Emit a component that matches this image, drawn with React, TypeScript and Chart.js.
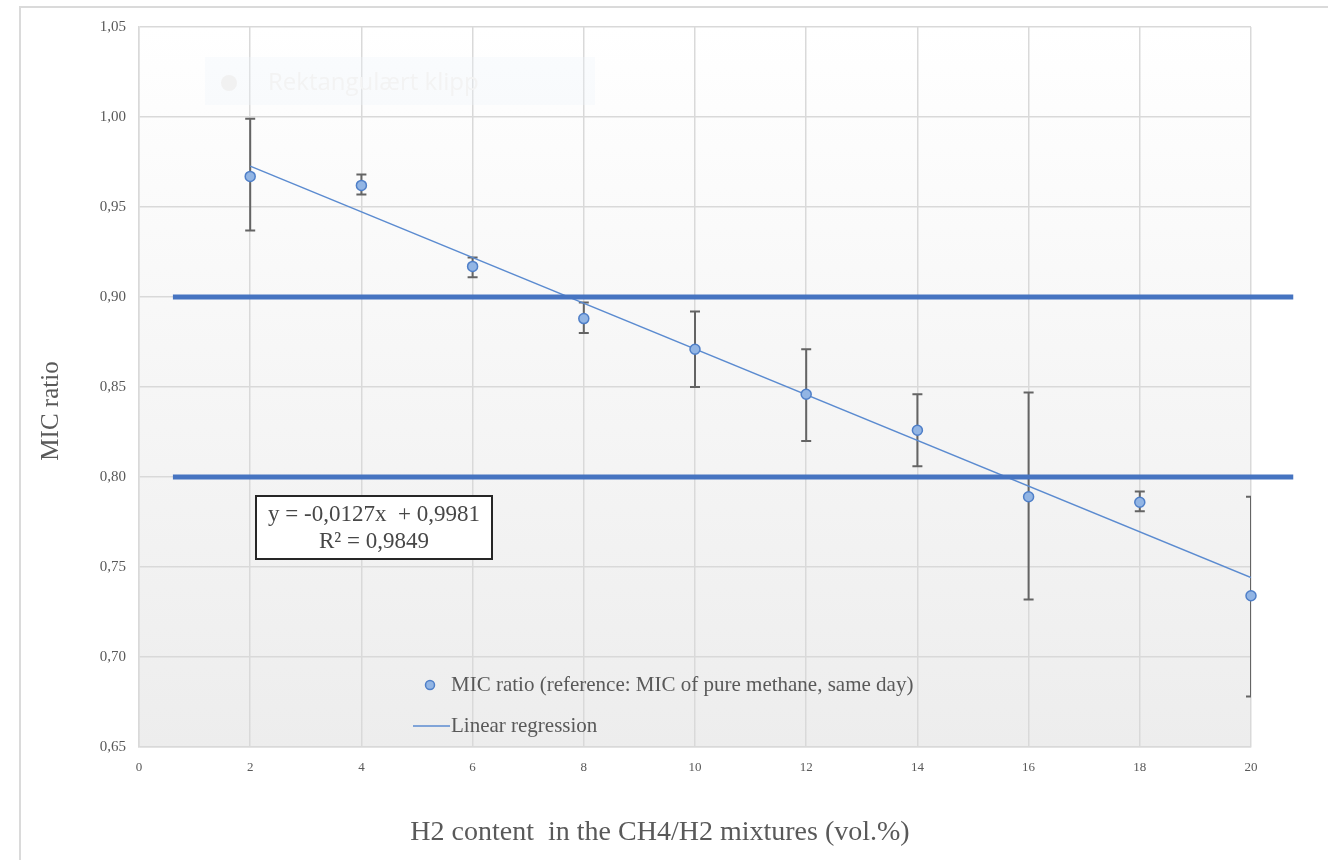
import React, { useEffect, useRef } from "react";
import { Chart, registerables } from "chart.js";

Chart.register(...registerables);

// ---- data ----
const h2Content = [2, 4, 6, 8, 10, 12, 14, 16, 18, 20];
const micRatio = [0.967, 0.962, 0.917, 0.888, 0.871, 0.846, 0.826, 0.789, 0.786, 0.734];
const errorHigh = [0.999, 0.968, 0.922, 0.897, 0.892, 0.871, 0.846, 0.847, 0.792, 0.789];
const errorLow = [0.937, 0.957, 0.911, 0.880, 0.850, 0.820, 0.806, 0.732, 0.781, 0.678];
const regressionX = [2, 20];
const regressionY = [0.9727, 0.7441];
const thresholdX = [0.61, 20.76];
const upperThresholdY = [0.9, 0.9];
const lowerThresholdY = [0.8, 0.8];
const equationLines = ["y = -0,0127x  + 0,9981", "R² = 0,9849"];
const seriesLabel = "MIC ratio (reference: MIC of pure methane, same day)";
const regressionLabel = "Linear regression";
const xTitle = "H2 content  in the CH4/H2 mixtures (vol.%)";
const yTitle = "MIC ratio";
const watermarkText = "Rektangulært klipp";

const SERIF = "'Liberation Serif', 'Times New Roman', serif";
const TEXT = "#595959";
const GRID = "#d9d9d9";
const POINT_FILL = "#92b5e4";
const POINT_BORDER = "#4f7fc8";
const REG_COLOR = "#5b8bd0";
const THRESH_COLOR = "#4674c1";

const pts = (xs: number[], ys: number[]) => xs.map((x, i) => ({ x, y: ys[i] }));

const decorPlugin = {
  id: "decor",
  beforeDraw(chart: any) {
    const { ctx, chartArea: a, width, height } = chart;
    ctx.save();
    ctx.fillStyle = "#ffffff";
    ctx.fillRect(0, 0, width, height);
    // outer frame (top and left)
    ctx.strokeStyle = "#dadada";
    ctx.lineWidth = 2;
    ctx.beginPath();
    ctx.moveTo(20, height);
    ctx.lineTo(20, 7);
    ctx.lineTo(width, 7);
    ctx.stroke();
    // plot area gradient
    const g = ctx.createLinearGradient(0, a.top, 0, a.bottom);
    g.addColorStop(0, "#ffffff");
    g.addColorStop(1, "#ededed");
    ctx.fillStyle = g;
    ctx.fillRect(a.left, a.top, a.right - a.left, a.bottom - a.top);
    ctx.restore();
  },
  beforeDatasetsDraw(chart: any) {
    const { ctx, chartArea: a, scales } = chart;
    const xs = scales.x;
    const ys = scales.y;
    ctx.save();
    // faint watermark box
    const wx = a.left + 66;
    const wy = a.top + 30;
    ctx.fillStyle = "rgba(238,244,252,0.3)";
    ctx.fillRect(wx, wy, 390, 48);
    ctx.fillStyle = "#f1f1f1";
    ctx.beginPath();
    ctx.arc(wx + 24, wy + 26, 8, 0, Math.PI * 2);
    ctx.fill();
    ctx.fillStyle = "#f3f3f3";
    ctx.font = "24px 'Open Sans', sans-serif";
    ctx.textBaseline = "middle";
    ctx.textAlign = "left";
    ctx.fillText(watermarkText, wx + 63, wy + 26);

    // error bars, clipped to plot area
    ctx.beginPath();
    ctx.rect(a.left, a.top, a.right - a.left, a.bottom - a.top);
    ctx.clip();
    ctx.strokeStyle = "#646464";
    ctx.lineWidth = 2;
    h2Content.forEach((x, i) => {
      const px = xs.getPixelForValue(x);
      const pHi = ys.getPixelForValue(errorHigh[i]);
      const pLo = ys.getPixelForValue(errorLow[i]);
      ctx.beginPath();
      ctx.moveTo(px, pHi);
      ctx.lineTo(px, pLo);
      ctx.moveTo(px - 5, pHi);
      ctx.lineTo(px + 5, pHi);
      ctx.moveTo(px - 5, pLo);
      ctx.lineTo(px + 5, pLo);
      ctx.stroke();
    });
    ctx.restore();
  },
  afterDraw(chart: any) {
    const { ctx, chartArea: a, width } = chart;
    const ds0 = chart.data.datasets[0];
    const dsReg = chart.data.datasets[3];
    ctx.save();
    // axis titles
    ctx.fillStyle = TEXT;
    ctx.textAlign = "center";
    ctx.textBaseline = "middle";
    ctx.font = `28px ${SERIF}`;
    ctx.fillText(xTitle, width / 2 - 4, 833);
    ctx.save();
    ctx.translate(51, 411);
    ctx.rotate(-Math.PI / 2);
    ctx.font = `25px ${SERIF}`;
    ctx.fillText(yTitle, 0, 0);
    ctx.restore();

    // equation box
    const bx = a.left + 117;
    const by = a.top + 469;
    const bw = 236;
    const bh = 63;
    ctx.fillStyle = "#ffffff";
    ctx.fillRect(bx, by, bw, bh);
    ctx.strokeStyle = "#262626";
    ctx.lineWidth = 2;
    ctx.strokeRect(bx, by, bw, bh);
    ctx.fillStyle = "#474747";
    ctx.font = `23px ${SERIF}`;
    ctx.textAlign = "center";
    ctx.textBaseline = "middle";
    ctx.fillText(equationLines[0], bx + bw / 2, by + 19);
    ctx.fillText(equationLines[1], bx + bw / 2, by + 46);

    // legend
    ctx.font = `21px ${SERIF}`;
    ctx.textAlign = "left";
    const lx = a.left + 274;
    const ly1 = a.top + 658;
    const ly2 = a.top + 699;
    ctx.beginPath();
    ctx.arc(lx + 17, ly1, 4.5, 0, Math.PI * 2);
    ctx.fillStyle = ds0.backgroundColor;
    ctx.fill();
    ctx.lineWidth = 1.5;
    ctx.strokeStyle = ds0.borderColor;
    ctx.stroke();
    ctx.fillStyle = TEXT;
    ctx.fillText(ds0.label, lx + 38, ly1);
    ctx.beginPath();
    ctx.moveTo(lx, ly2);
    ctx.lineTo(lx + 37, ly2);
    ctx.strokeStyle = dsReg.borderColor;
    ctx.lineWidth = 1.5;
    ctx.stroke();
    ctx.fillText(dsReg.label, lx + 38, ly2);
    ctx.restore();
  },
};

export default function App() {
  const canvasRef = useRef<HTMLCanvasElement | null>(null);

  useEffect(() => {
    if (!canvasRef.current) return;
    const chart = new Chart(canvasRef.current, {
      type: "scatter",
      data: {
        datasets: [
          {
            label: seriesLabel,
            data: pts(h2Content, micRatio),
            backgroundColor: POINT_FILL,
            borderColor: POINT_BORDER,
            borderWidth: 1.5,
            pointRadius: 5,
            clip: false,
          },
          {
            label: "upper",
            data: pts(thresholdX, upperThresholdY),
            showLine: true,
            borderColor: THRESH_COLOR,
            borderWidth: 5,
            pointRadius: 0,
            clip: false,
          },
          {
            label: "lower",
            data: pts(thresholdX, lowerThresholdY),
            showLine: true,
            borderColor: THRESH_COLOR,
            borderWidth: 5,
            pointRadius: 0,
            clip: false,
          },
          {
            label: regressionLabel,
            data: pts(regressionX, regressionY),
            showLine: true,
            borderColor: REG_COLOR,
            borderWidth: 1.5,
            pointRadius: 0,
          },
        ],
      } as any,
      options: {
        animation: false,
        responsive: true,
        maintainAspectRatio: false,
        layout: { padding: { left: 0, top: 27, right: 77, bottom: 0 } },
        plugins: {
          legend: { display: false },
          tooltip: { enabled: false },
        },
        scales: {
          x: {
            type: "linear",
            min: 0,
            max: 20,
            ticks: {
              stepSize: 2,
              color: TEXT,
              font: { family: SERIF, size: 13 },
              padding: 13,
              callback: (v: any) => String(v),
            },
            grid: { color: GRID, lineWidth: 1.5, drawTicks: false },
            border: { color: GRID, width: 1.5 },
            title: { display: false, text: xTitle },
            afterFit: (s: any) => {
              s.height = 113;
            },
          },
          y: {
            type: "linear",
            min: 0.65,
            max: 1.05,
            ticks: {
              stepSize: 0.05,
              color: TEXT,
              font: { family: SERIF, size: 15 },
              padding: 13,
              callback: (v: any) => Number(v).toFixed(2).replace(".", ","),
            },
            grid: { color: GRID, lineWidth: 1.5, drawTicks: false },
            border: { color: GRID, width: 1.5 },
            title: { display: false, text: yTitle },
            afterFit: (s: any) => {
              s.width = 139;
            },
          },
        },
      } as any,
      plugins: [decorPlugin],
    });
    return () => chart.destroy();
  }, []);

  return (
    <div style={{ position: "absolute", left: 0, top: 0, width: 1328, height: 860 }}>
      <canvas ref={canvasRef} />
    </div>
  );
}
